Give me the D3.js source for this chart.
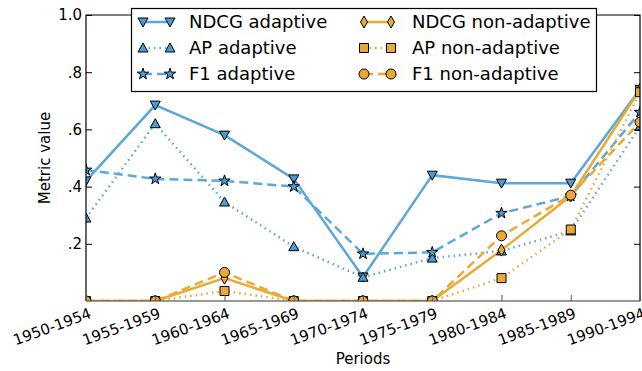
<!DOCTYPE html>
<html>
<head>
<meta charset="utf-8">
<script src="https://cdn.jsdelivr.net/npm/d3@7"></script>
<style>
  body { margin: 0; background: #fff; }
  svg { font-family: "DejaVu Sans", sans-serif; }
</style>
</head>
<body>
<div id="chart"></div>
<script>
// data
const periods = ["1950-1954", "1955-1959", "1960-1964", "1965-1969", "1970-1974",
                 "1975-1979", "1980-1984", "1985-1989", "1990-1994"];
const ndcgAdaptive    = [0.42, 0.685, 0.58, 0.427, 0.084, 0.44, 0.412, 0.412, 0.74];
const apAdaptive      = [0.29, 0.62, 0.346, 0.19, 0.083, 0.15, 0.175, 0.245, 0.61];
const f1Adaptive      = [0.458, 0.427, 0.42, 0.40, 0.165, 0.17, 0.307, 0.367, 0.66];
const ndcgNonAdaptive = [0, 0, 0.08, 0, 0, 0, 0.178, 0.367, 0.74];
const apNonAdaptive   = [0, 0, 0.035, 0, 0, 0, 0.08, 0.25, 0.73];
const f1NonAdaptive   = [0, 0, 0.10, 0, 0, 0, 0.228, 0.37, 0.625];
const yTickValues = [0.2, 0.4, 0.6, 0.8, 1.0];
const yTickLabels = [".2", ".4", ".6", ".8", "1.0"];

const blue = "#5aa8dc", blueFill = "#4a9ad3";
const orange = "#eba936", orangeFill = "#eaa935";

const series = [
  { name: "NDCG adaptive", values: ndcgAdaptive, color: blue, fill: blueFill, dash: null, marker: "tridown" },
  { name: "AP adaptive", values: apAdaptive, color: blue, fill: blueFill, dash: "1.5,4", marker: "triup" },
  { name: "F1 adaptive", values: f1Adaptive, color: blue, fill: blueFill, dash: "9,5", marker: "star" },
  { name: "NDCG non-adaptive", values: ndcgNonAdaptive, color: orange, fill: orangeFill, dash: null, marker: "diamond" },
  { name: "AP non-adaptive", values: apNonAdaptive, color: orange, fill: orangeFill, dash: "1.5,4", marker: "square" },
  { name: "F1 non-adaptive", values: f1NonAdaptive, color: orange, fill: orangeFill, dash: "9,5", marker: "circle" }
];

const width = 642, height = 371;
const margin = { top: 15, right: 2, bottom: 70, left: 86 };
const innerW = width - margin.left - margin.right;
const innerH = height - margin.top - margin.bottom;

const svg = d3.select("#chart").append("svg")
  .attr("width", width).attr("height", height);

const x = d3.scalePoint().domain(periods).range([margin.left, margin.left + innerW]);
const y = d3.scaleLinear().domain([0, 1]).range([margin.top + innerH, margin.top]);

function markerPath(type) {
  switch (type) {
    case "tridown": return "M-5,-4L5,-4L0,5Z";
    case "triup": return "M-5,4L5,4L0,-5Z";
    case "diamond": return "M0,-6L3.5,0L0,6L-3.5,0Z";
    case "square": return "M-4.5,-4.5H4.5V4.5H-4.5Z";
    case "circle": return "M5,0A5,5 0 1,1 -5,0A5,5 0 1,1 5,0Z";
    case "star": return d3.symbol(d3.symbolStar, 40)();
  }
}

svg.append("defs").append("clipPath").attr("id", "plot-area")
  .append("rect")
  .attr("x", margin.left).attr("y", margin.top)
  .attr("width", innerW).attr("height", innerH);

const plot = svg.append("g").attr("clip-path", "url(#plot-area)");

const line = d3.line().x((d, i) => x(periods[i])).y(d => y(d));

series.forEach(s => {
  plot.append("path")
    .datum(s.values)
    .attr("d", line)
    .attr("fill", "none")
    .attr("stroke", s.color)
    .attr("stroke-width", 2.5)
    .attr("stroke-dasharray", s.dash);
});
series.forEach(s => {
  plot.append("g").selectAll("path")
    .data(s.values)
    .join("path")
    .attr("d", markerPath(s.marker))
    .attr("transform", (d, i) => `translate(${x(periods[i])},${y(d)})`)
    .attr("fill", s.fill)
    .attr("stroke", "#000")
    .attr("stroke-width", 1);
});

// spines
const x0 = margin.left, x1 = margin.left + innerW, y0 = margin.top + innerH, y1 = margin.top;
svg.append("path").attr("d", `M${x0},${y0}V${y1}H${x1}V${y0}`)
  .attr("fill", "none").attr("stroke", "#000").attr("stroke-width", 1.2);
svg.append("line").attr("x1", x0).attr("x2", x1).attr("y1", y0).attr("y2", y0)
  .attr("stroke", "#555").attr("stroke-width", 1.5).attr("stroke-opacity", 0.8);

// y axis (ticks inward)
const yAxis = svg.append("g").attr("transform", `translate(${x0},0)`)
  .call(d3.axisLeft(y).tickValues(yTickValues).tickSizeInner(-6).tickSizeOuter(0).tickPadding(4)
    .tickFormat((d, i) => yTickLabels[i]));
yAxis.select(".domain").remove();
yAxis.selectAll("text").attr("font-size", 15).attr("fill", "#000").attr("font-family", "DejaVu Sans");

const yAxisR = svg.append("g").attr("transform", `translate(${x1},0)`)
  .call(d3.axisRight(y).tickValues(yTickValues).tickSizeInner(-6).tickSizeOuter(0).tickFormat(""));
yAxisR.select(".domain").remove();

// x axis
const xAxis = svg.append("g").attr("transform", `translate(0,${y0})`)
  .call(d3.axisBottom(x).tickSizeInner(-6).tickSizeOuter(0));
xAxis.select(".domain").remove();
xAxis.selectAll("line").attr("stroke", "#555");
xAxis.selectAll("text")
  .attr("font-size", 15).attr("fill", "#000").attr("font-family", "DejaVu Sans")
  .attr("text-anchor", "end")
  .attr("x", 0).attr("y", 0)
  .attr("dy", "0.75em")
  .attr("transform", "translate(2,6) rotate(-20)");

// axis titles
svg.append("text")
  .attr("transform", `translate(50,158) rotate(-90)`)
  .attr("text-anchor", "middle")
  .attr("font-size", 15)
  .text("Metric value");
svg.append("text")
  .attr("x", (x0 + x1) / 2).attr("y", 364)
  .attr("text-anchor", "middle")
  .attr("font-size", 15)
  .text("Periods");

// legend
const legend = svg.append("g");
legend.append("rect")
  .attr("x", 131.5).attr("y", 8.5).attr("width", 465).attr("height", 83)
  .attr("fill", "#fff").attr("stroke", "#000").attr("stroke-width", 1.2);
series.forEach((s, i) => {
  const col = Math.floor(i / 3), row = i % 3;
  const lx = col === 0 ? 143 : 364;
  const ly = 22 + row * 26;
  const g = legend.append("g");
  g.append("line")
    .attr("x1", lx).attr("x2", lx + 27).attr("y1", ly).attr("y2", ly)
    .attr("stroke", s.color).attr("stroke-width", 2.5)
    .attr("stroke-dasharray", s.dash);
  [lx, lx + 27].forEach(mx => {
    g.append("path")
      .attr("d", markerPath(s.marker))
      .attr("transform", `translate(${mx},${ly})`)
      .attr("fill", s.fill).attr("stroke", "#000").attr("stroke-width", 1);
  });
  g.append("text")
    .attr("x", col === 0 ? 189 : 412).attr("y", ly + 6)
    .attr("font-size", 18)
    .text(s.name);
});
</script>
</body>
</html>
